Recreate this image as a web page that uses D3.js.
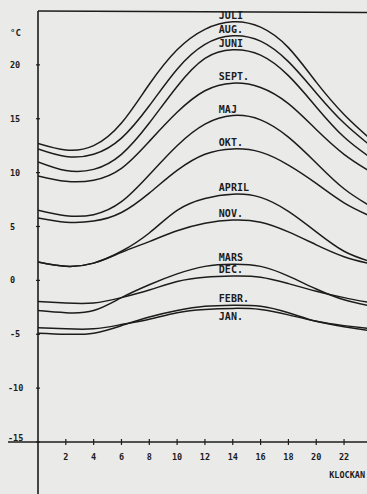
<!DOCTYPE html>
<head>
  <meta charset="utf-8">
  <script src="https://d3js.org/d3.v7.min.js"></script>
  <style>
    body { margin:0; background:#eaeae8; }
    svg { display:block; }
    text { font-family: "DejaVu Sans Mono", monospace; font-weight: bold; fill:#1c1c1c; }
  </style>
</head>
<body>
  <svg width="367" height="494"></svg>
  <script>
    // hours of the day (every second hour)
    var hours = [0, 2, 4, 6, 8, 10, 12, 14, 16, 18, 20, 22, 24];

    // mean temperature per hour, one list per month
    var juli  = [12.7, 12.1, 12.5, 14.6, 18.2, 21.4, 23.3, 24.0, 23.5, 21.6, 18.4, 15.4, 13.0];
    var aug   = [12.2, 11.5, 11.7, 13.2, 16.2, 19.6, 21.9, 22.7, 22.2, 20.3, 17.4, 14.6, 12.4];
    var juni  = [11.0, 10.2, 10.3, 11.7, 14.6, 18.0, 20.6, 21.4, 20.9, 19.0, 16.1, 13.3, 11.3];
    var sept  = [9.7, 9.2, 9.3, 10.4, 12.9, 15.6, 17.6, 18.3, 17.9, 16.4, 14.0, 11.7, 10.0];
    var maj   = [6.5, 6.0, 6.1, 7.3, 9.8, 12.5, 14.5, 15.3, 14.9, 13.3, 10.9, 8.5, 6.8];
    var okt   = [5.8, 5.4, 5.5, 6.3, 8.1, 10.2, 11.7, 12.2, 11.9, 10.7, 9.0, 7.2, 5.9];
    var april = [1.7, 1.3, 1.6, 2.7, 4.4, 6.5, 7.6, 8.0, 7.7, 6.4, 4.5, 2.7, 1.7];
    var nov   = [1.7, 1.3, 1.6, 2.6, 3.6, 4.6, 5.3, 5.6, 5.4, 4.5, 3.3, 2.2, 1.5];
    var mars  = [-2.8, -3.0, -2.8, -1.6, -0.4, 0.6, 1.3, 1.5, 1.3, 0.4, -0.8, -1.8, -2.4];
    var dec   = [-1.95, -2.1, -2.1, -1.6, -0.9, -0.1, 0.3, 0.4, 0.3, -0.3, -1.0, -1.6, -2.1];
    var febr  = [-4.9, -5.0, -4.9, -4.2, -3.4, -2.8, -2.4, -2.3, -2.4, -3.0, -3.8, -4.3, -4.7];
    var jan   = [-4.4, -4.5, -4.5, -4.1, -3.6, -3.0, -2.7, -2.6, -2.7, -3.2, -3.8, -4.2, -4.5];

    var monthNames = ['JULI', 'AUG.', 'JUNI', 'SEPT.', 'MAJ', 'OKT.', 'APRIL', 'NOV.', 'MARS', 'DEC.', 'FEBR.', 'JAN.'];
    var monthValues = [juli, aug, juni, sept, maj, okt, april, nov, mars, dec, febr, jan];

    var yTicks = [20, 15, 10, 5, 0, -5, -10, -15];
    var yTickLabels = ['20', '15', '10', '5', '0', '-5', '-10', '-15'];
    var xTicks = [2, 4, 6, 8, 10, 12, 14, 16, 18, 20, 22];

    var width = 367, height = 494;
    var plotLeft = 38, plotTop = 11, axisY = 442;

    var xScale = d3.scaleLinear().domain([0, 23.65]).range([plotLeft, width]);
    var yScale = d3.scaleLinear().domain([-15, 25]).range([axisY, plotTop]);

    var svg = d3.select('svg');
    var ink = '#1c1c1c';

    svg.append('clipPath').attr('id', 'plot')
      .append('rect').attr('x', plotLeft).attr('y', plotTop)
      .attr('width', width - plotLeft).attr('height', axisY - plotTop);

    // frame: top line, y axis (runs past the x axis), x axis
    svg.append('line').attr('x1', plotLeft).attr('x2', width).attr('y1', plotTop).attr('y2', plotTop + 1.5)
      .attr('stroke', ink).attr('stroke-width', 1.6);
    svg.append('line').attr('x1', plotLeft).attr('x2', plotLeft).attr('y1', plotTop).attr('y2', height)
      .attr('stroke', ink).attr('stroke-width', 1.6);
    svg.append('line').attr('x1', 8).attr('x2', width).attr('y1', axisY).attr('y2', axisY)
      .attr('stroke', ink).attr('stroke-width', 1.6);

    // y ticks + labels
    svg.selectAll('.yt').data(yTicks).enter().append('line')
      .attr('x1', plotLeft - 2).attr('x2', plotLeft + 2)
      .attr('y1', d => yScale(d)).attr('y2', d => yScale(d))
      .attr('stroke', ink).attr('stroke-width', 1.2);
    svg.selectAll('.yl').data(yTicks).enter().append('text')
      .attr('x', (d, i) => yTickLabels[i].length > 2 ? 8 : 10)
      .attr('y', d => d === -15 ? yScale(d) - 1 : yScale(d) + 3)
      .attr('font-size', 8.5)
      .text((d, i) => yTickLabels[i]);
    svg.append('text').attr('x', 10).attr('y', 36).attr('font-size', 9).text('°C');

    // x ticks + labels
    svg.selectAll('.xt').data(xTicks).enter().append('line')
      .attr('x1', d => xScale(d)).attr('x2', d => xScale(d))
      .attr('y1', axisY - 3).attr('y2', axisY + 3)
      .attr('stroke', ink).attr('stroke-width', 1.2);
    svg.selectAll('.xl').data(xTicks).enter().append('text')
      .attr('x', d => xScale(d)).attr('y', axisY + 18)
      .attr('text-anchor', 'middle').attr('font-size', 8.5)
      .text(d => d);
    svg.append('text').attr('x', 365).attr('y', 478).attr('text-anchor', 'end')
      .attr('font-size', 8.5).text('KLOCKAN');

    // month curves
    var line = d3.line()
      .x((d, i) => xScale(hours[i]))
      .y(d => yScale(d))
      .curve(d3.curveNatural);

    svg.append('g').attr('clip-path', 'url(#plot)')
      .selectAll('path').data(monthValues).enter().append('path')
      .attr('d', line)
      .attr('fill', 'none').attr('stroke', ink).attr('stroke-width', 1.5);

    // month names sit just over each curve's peak (JAN. under it)
    svg.selectAll('.ml').data(monthValues).enter().append('text')
      .attr('x', xScale(13))
      .attr('y', (d, i) => monthNames[i] === 'JAN.' ? yScale(d3.max(d)) + 12 : yScale(d3.max(d)) - 3)
      .attr('font-size', 10)
      .text((d, i) => monthNames[i]);
  </script>
</body>
